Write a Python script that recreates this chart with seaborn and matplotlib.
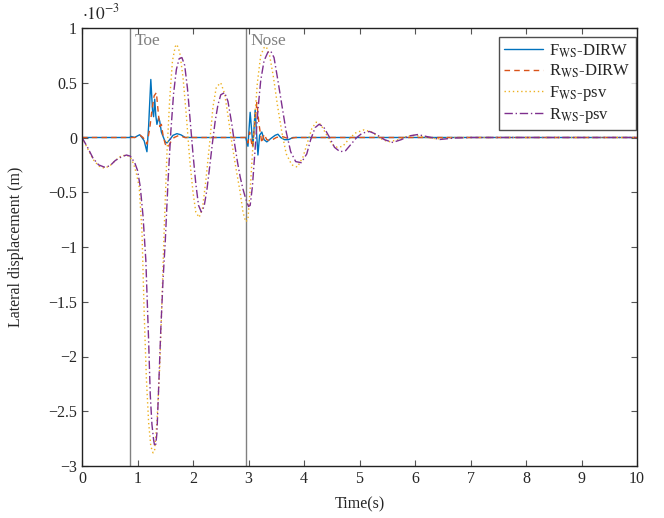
import numpy as np
import pandas as pd
import matplotlib
matplotlib.use("Agg")
import matplotlib.pyplot as plt
import seaborn as sns

# values in units of 1e-3 m
t_fdirw = [0, 0.86, 0.88, 0.95, 1.0, 1.04, 1.08, 1.12, 1.17, 1.2, 1.24, 1.27, 1.29, 1.31, 1.33,
           1.35, 1.38, 1.4, 1.43, 1.46, 1.5, 1.53, 1.58, 1.64, 1.71, 1.78, 1.86, 2.95, 2.99,
           3.03, 3.08, 3.12, 3.17, 3.2, 3.24, 3.28, 3.33, 3.4, 3.48, 3.53, 3.58, 3.65, 3.72, 3.8, 10]
y_fdirw = [0, 0, 0.01, 0.0, 0.015, 0.025, 0.0, -0.03, -0.13, 0.1, 0.53, 0.25, 0.19, 0.35, 0.2,
           0.12, 0.18, 0.15, 0.05, 0.01, -0.04, -0.05, -0.02, 0.02, 0.035, 0.025, 0.0, 0.0, -0.08,
           0.23, -0.08, 0.25, -0.16, 0.02, 0.05, -0.02, -0.04, -0.01, 0.02, 0.03, 0.0, -0.02, -0.02, 0.0, 0]

t_rdirw = [0, 0.95, 1.0, 1.05, 1.1, 1.17, 1.22, 1.26, 1.3, 1.34, 1.37, 1.4, 1.43, 1.46, 1.5,
           1.55, 1.6, 1.66, 1.75, 1.85, 2.95, 2.99, 3.02, 3.07, 3.12, 3.15, 3.19, 3.24, 3.28,
           3.33, 3.4, 3.5, 3.6, 3.72, 3.85, 10]
y_rdirw = [0, 0, 0.01, 0.02, 0.0, -0.06, 0.08, 0.25, 0.38, 0.41, 0.25, 0.1, 0.12, 0.02, -0.06,
           -0.09, -0.04, 0.0, 0.02, 0.0, 0, -0.05, 0.05, -0.09, 0.15, 0.32, 0.12, -0.05, 0.03,
           -0.02, -0.03, 0.0, 0.01, -0.01, 0, 0]

t_fpsv = [0, 0.1, 0.2, 0.3, 0.4, 0.5, 0.6, 0.7, 0.8, 0.87, 0.93, 0.98, 1.03, 1.08, 1.12, 1.16,
          1.2, 1.24, 1.28, 1.31, 1.35, 1.4, 1.44, 1.48, 1.53, 1.58, 1.63, 1.68, 1.71, 1.76, 1.82,
          1.88, 1.94, 2.0, 2.05, 2.11, 2.17, 2.23, 2.3, 2.36, 2.42, 2.5, 2.57, 2.63, 2.7, 2.78,
          2.85, 2.9, 2.95, 2.99, 3.04, 3.1, 3.16, 3.22, 3.28, 3.32, 3.38, 3.45, 3.52, 3.6, 3.68,
          3.78, 3.88, 3.98, 4.06, 4.14, 4.22, 4.3, 4.4, 4.5, 4.6, 4.7, 4.8, 4.92, 5.08, 5.22,
          5.38, 5.52, 5.7, 5.85, 6.0, 6.2, 6.4, 6.7, 10]
y_fpsv = [0, -0.1, -0.2, -0.26, -0.28, -0.26, -0.21, -0.17, -0.16, -0.18, -0.24, -0.33, -0.45,
          -0.85, -1.6, -2.2, -2.6, -2.82, -2.88, -2.85, -2.6, -2.1, -1.5, -0.85, -0.15, 0.35,
          0.7, 0.83, 0.85, 0.78, 0.55, 0.2, -0.2, -0.5, -0.68, -0.73, -0.65, -0.4, -0.05, 0.28,
          0.46, 0.5, 0.4, 0.2, -0.05, -0.3, -0.5, -0.68, -0.77, -0.75, -0.4, 0.1, 0.5, 0.75,
          0.82, 0.83, 0.75, 0.55, 0.3, 0.05, -0.15, -0.25, -0.27, -0.18, -0.05, 0.08, 0.14,
          0.12, 0.03, -0.06, -0.09, -0.08, -0.02, 0.04, 0.07, 0.05, -0.01, -0.04, -0.02, 0.01,
          0.02, 0.0, -0.012, 0.0, 0]

t_rpsv = [0, 0.1, 0.2, 0.3, 0.4, 0.5, 0.6, 0.7, 0.8, 0.87, 0.95, 1.0, 1.05, 1.1, 1.15, 1.2,
          1.23, 1.26, 1.29, 1.31, 1.33, 1.35, 1.38, 1.42, 1.46, 1.5, 1.55, 1.6, 1.65, 1.7, 1.75,
          1.8, 1.85, 1.9, 1.95, 2.0, 2.05, 2.1, 2.15, 2.2, 2.25, 2.3, 2.35, 2.4, 2.45, 2.5, 2.57,
          2.63, 2.7, 2.75, 2.8, 2.85, 2.9, 2.95, 3.0, 3.03, 3.07, 3.12, 3.17, 3.22, 3.28, 3.35,
          3.4, 3.46, 3.52, 3.6, 3.68, 3.76, 3.85, 3.95, 4.05, 4.12, 4.2, 4.27, 4.35, 4.45, 4.55,
          4.65, 4.75, 4.85, 4.95, 5.05, 5.18, 5.3, 5.45, 5.6, 5.75, 5.9, 6.05, 6.2, 6.45, 6.7,
          7.0, 10]
y_rpsv = [0, -0.09, -0.19, -0.25, -0.27, -0.26, -0.21, -0.18, -0.16, -0.17, -0.23, -0.3, -0.45,
          -0.72, -1.12, -1.85, -2.35, -2.62, -2.76, -2.82, -2.8, -2.7, -2.3, -1.75, -1.3, -0.95,
          -0.4, 0.05, 0.4, 0.62, 0.72, 0.73, 0.66, 0.45, 0.15, -0.15, -0.42, -0.62, -0.68, -0.63,
          -0.48, -0.27, -0.05, 0.15, 0.3, 0.39, 0.41, 0.33, 0.12, -0.06, -0.22, -0.36, -0.47,
          -0.56, -0.63, -0.62, -0.45, -0.1, 0.25, 0.52, 0.7, 0.78, 0.79, 0.73, 0.55, 0.3, 0.05,
          -0.13, -0.22, -0.23, -0.15, -0.02, 0.09, 0.12, 0.1, 0.01, -0.09, -0.13, -0.12, -0.06,
          0.0, 0.04, 0.055, 0.03, -0.02, -0.045, -0.02, 0.015, 0.027, 0.01, -0.018, -0.005, 0.0, 0]

labels = [r"F$_{\mathrm{WS}}$-DIRW", r"R$_{\mathrm{WS}}$-DIRW",
          r"F$_{\mathrm{WS}}$-psv", r"R$_{\mathrm{WS}}$-psv"]
events_t = [0.865, 2.95]
events_lbl = ["Toe", "Nose"]

sns.set_style("ticks")
plt.rcParams['font.family'] = ['Liberation Serif', 'DejaVu Serif']
plt.rcParams['mathtext.fontset'] = 'stix'
plt.rcParams['axes.unicode_minus'] = True

fig = plt.figure(figsize=(6.64, 5.18), dpi=100)
ax = fig.add_axes([82 / 664, 1 - 466 / 518, (637 - 82) / 664, (466 - 28) / 518])

series = [(t_fdirw, y_fdirw, '#0072BD', '-'),
          (t_rdirw, y_rdirw, '#D95319', (0, (4, 3))),
          (t_fpsv, y_fpsv, '#EDB120', (0, (1, 2))),
          (t_rpsv, y_rpsv, '#7E2F8E', (0, (6, 2, 1, 2)))]
for (t, y, c, ls), lbl in zip(series, labels):
    df = pd.DataFrame({'t': t, 'y': y})
    sns.lineplot(data=df, x='t', y='y', ax=ax, color=c, linestyle=ls, lw=1.0,
                 label=lbl, sort=False, estimator=None)

for xe, txt in zip(events_t, events_lbl):
    ax.axvline(xe, color='#808080', lw=1.0, zorder=0)
    ax.text(xe + 0.08, 0.885, txt, color='#808080', fontsize=12.5, va='center', ha='left')

ax.set_xlim(0, 10)
ax.set_ylim(-3, 1)
ax.set_xticks(np.arange(0, 11, 1))
ax.set_yticks(np.arange(-3, 1.01, 0.5))
ax.set_yticklabels(['%g' % v if v >= 0 else '\u2212%g' % -v for v in np.arange(-3, 1.01, 0.5)])
ax.tick_params(direction='in', top=True, right=True, length=4, labelsize=11.5, color='#555555')
for s in ax.spines.values():
    s.set_linewidth(1.0)
    s.set_color('#222222')

ax.set_xlabel('Time(s)', fontsize=11.5)
ax.set_ylabel('Lateral displacement (m)', fontsize=11.5)
ax.yaxis.set_label_coords(-0.105, 0.5)
ax.xaxis.set_label_coords(0.5, -0.07)
ax.text(0.0, 1.01, r'$\cdot 10^{-3}$', transform=ax.transAxes, fontsize=12.5, va='bottom', ha='left')

leg = ax.legend(loc='upper right', bbox_to_anchor=(0.998, 0.979), fontsize=12, frameon=True,
                fancybox=False, edgecolor='#222222', borderaxespad=0, handlelength=2.3,
                labelspacing=0.2, borderpad=0.3, handletextpad=0.4)
leg.get_frame().set_linewidth(1.0)

fig.savefig('out.png', dpi=100)
